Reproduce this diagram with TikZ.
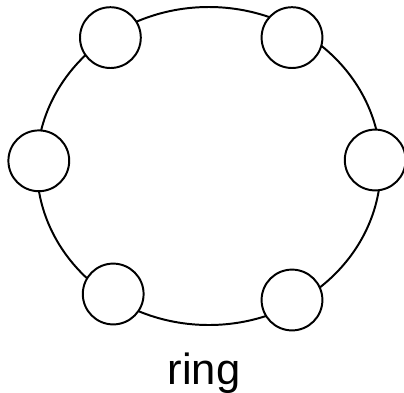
\documentclass[tikz,border=0pt]{standalone}
\usepackage{fontspec}
\setmainfont{Liberation Sans}
\usetikzlibrary{shapes.geometric, positioning}

\begin{document}
\begin{tikzpicture}[
        line width=1.4pt,
        ring/.style={ellipse, draw=black, fill=none, minimum width=8.6cm, minimum height=7.95cm, inner sep=0pt},
        station/.style={circle, draw=black, fill=white, minimum size=1.52cm, inner sep=0pt},
        caption/.style={font=\fontsize{31}{36}\selectfont, anchor=base, inner sep=0pt}
    ]
        \useasboundingbox (0,0) rectangle (10.1,-9.8);

        \node[ring] (ring) at (5.22,-4.15) {};

        \node[station] (tl) at (2.76,-0.94) {};
        \node[station] (tr) at (7.30,-0.94) {};
        \node[station] (l) at (0.97,-4.02) {};
        \node[station] (r) at (9.38,-4.00) {};
        \node[station] (bl) at (2.83,-7.35) {};
        \node[station] (br) at (7.30,-7.50) {};

        \node[caption] (label) at (5.1,-9.6) {ring};
    \end{tikzpicture}
\end{document}
